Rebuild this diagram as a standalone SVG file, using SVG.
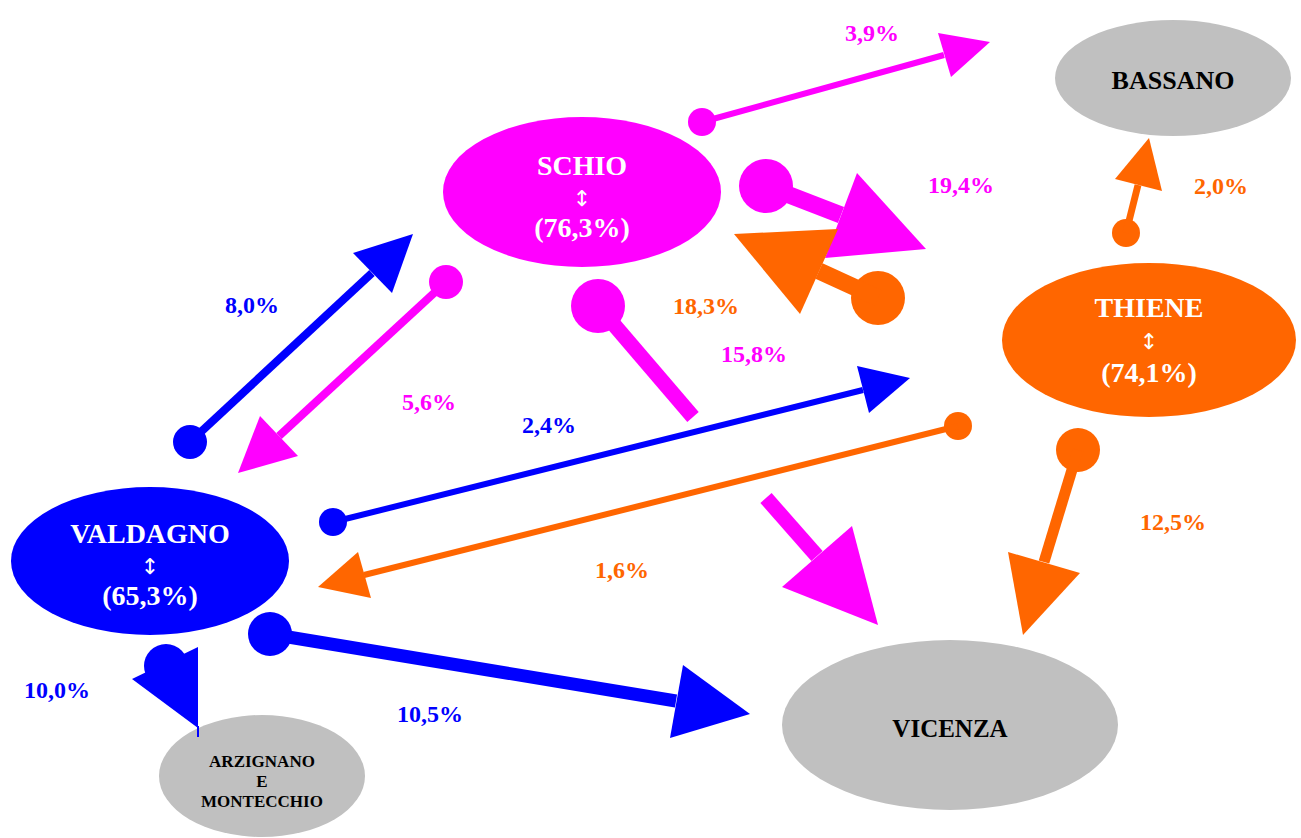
<svg xmlns="http://www.w3.org/2000/svg" width="1301" height="838" viewBox="0 0 1301 838">
<style>
.m{fill:#FF00FF}
.b{fill:#0000FF}
.o{fill:#FF6600}
.g{fill:#C0C0C0}
.ms{stroke:#FF00FF;fill:none}
.bs{stroke:#0000FF;fill:none}
.os{stroke:#FF6600;fill:none}
text{font-family:"Liberation Serif","Times New Roman",serif;font-weight:bold}
.nl{fill:#FFFFFF;font-size:28px;text-anchor:middle}
.ar{fill:#FFFFFF;font-family:"DejaVu Sans","DejaVu Serif",sans-serif;font-weight:normal;font-size:22px;text-anchor:middle}
.gl{fill:#000000;font-size:25px;text-anchor:middle}
.sl{fill:#000000;font-size:17px;text-anchor:middle}
.lb{font-size:24px}
</style>
<rect width="1301" height="838" fill="#FFFFFF"/>
<g id="nodes">
<g id="schio">
<ellipse class="m" cx="582" cy="192" rx="139" ry="75"/>
<text class="nl" x="582" y="175">SCHIO</text>
<text class="ar" x="582" y="206">↕</text>
<text class="nl" x="582" y="237">(76,3%)</text>
</g>
<g id="valdagno">
<ellipse class="b" cx="150" cy="561" rx="139" ry="74"/>
<text class="nl" x="150" y="543">VALDAGNO</text>
<text class="ar" x="150" y="574">↕</text>
<text class="nl" x="150" y="605">(65,3%)</text>
</g>
<g id="thiene">
<ellipse class="o" cx="1149" cy="340" rx="147" ry="77"/>
<text class="nl" x="1149" y="317">THIENE</text>
<text class="ar" x="1149" y="349">↕</text>
<text class="nl" x="1149" y="382">(74,1%)</text>
</g>
<g id="bassano">
<ellipse class="g" cx="1173" cy="78" rx="118" ry="58"/>
<text class="gl" x="1173" y="89" style="font-size:26px">BASSANO</text>
</g>
<g id="vicenza">
<ellipse class="g" cx="950" cy="725" rx="168" ry="85"/>
<text class="gl" x="950" y="737">VICENZA</text>
</g>
<g id="arzignano">
<ellipse class="g" cx="262" cy="776" rx="103" ry="61"/>
<text class="sl" x="262" y="767">ARZIGNANO</text>
<text class="sl" x="262" y="787">E</text>
<text class="sl" x="262" y="807">MONTECCHIO</text>
</g>
</g>
<g id="connectors">
<g id="c-schio-bassano">
<circle class="m" cx="702" cy="122" r="14"/>
<line class="ms" x1="702" y1="122" x2="944" y2="55" stroke-width="6"/>
<polygon class="m" points="938,33 990,42 951,77"/>
</g>
<g id="c-schio-thiene">
<circle class="m" cx="766" cy="186" r="27"/>
<line class="ms" x1="766" y1="186" x2="841" y2="215" stroke-width="17"/>
<polygon class="m" points="857,173 926,249 825,258"/>
</g>
<g id="c-thiene-schio">
<circle class="o" cx="878" cy="298" r="27"/>
<line class="os" x1="878" y1="298" x2="819" y2="271" stroke-width="17"/>
<polygon class="o" points="734,234 838,229 800,314"/>
</g>
<g id="c-schio-vicenza">
<circle class="m" cx="598" cy="306" r="27"/>
<line class="ms" x1="598" y1="306" x2="693" y2="417" stroke-width="15"/>
<line class="ms" x1="766" y1="498" x2="817" y2="556" stroke-width="15"/>
<polygon class="m" points="852,526 878,625 782,587"/>
</g>
<g id="c-schio-valdagno">
<circle class="m" cx="446" cy="282" r="17"/>
<line class="ms" x1="446" y1="282" x2="279" y2="436" stroke-width="8"/>
<polygon class="m" points="260,416 238,473 298,456"/>
</g>
<g id="c-valdagno-schio">
<circle class="b" cx="190" cy="442" r="17"/>
<line class="bs" x1="190" y1="442" x2="372" y2="273" stroke-width="8"/>
<polygon class="b" points="353,253 413,234 392,293"/>
</g>
<g id="c-valdagno-thiene">
<circle class="b" cx="333" cy="522" r="14"/>
<line class="bs" x1="333" y1="522" x2="863" y2="390" stroke-width="6"/>
<polygon class="b" points="857,366 910,378 869,413"/>
</g>
<g id="c-thiene-valdagno">
<circle class="o" cx="958" cy="426" r="14"/>
<line class="os" x1="958" y1="426" x2="364" y2="575" stroke-width="6"/>
<polygon class="o" points="358,552 318,587 371,598"/>
</g>
<g id="c-thiene-vicenza">
<circle class="o" cx="1078" cy="450" r="22"/>
<line class="os" x1="1078" y1="450" x2="1044" y2="562" stroke-width="11"/>
<polygon class="o" points="1008,552 1080,573 1023,635"/>
</g>
<g id="c-thiene-bassano">
<circle class="o" cx="1126" cy="233" r="14"/>
<line class="os" x1="1126" y1="233" x2="1138" y2="185" stroke-width="7"/>
<polygon class="o" points="1115,179 1149,138 1162,191"/>
</g>
<g id="c-valdagno-vicenza">
<circle class="b" cx="270" cy="634" r="22"/>
<line class="bs" x1="270" y1="634" x2="676" y2="701" stroke-width="13"/>
<polygon class="b" points="683,665 750,714 670,738"/>
</g>
<g id="c-valdagno-arzignano">
<circle class="b" cx="166" cy="666" r="22"/>
<polygon class="b" points="132,679 198,647 198,728"/>
<line class="bs" x1="198" y1="726" x2="198" y2="737" stroke-width="2"/>
</g>
</g>
<g id="labels">
<text class="lb m" x="845" y="41">3,9%</text>
<text class="lb m" x="928" y="193">19,4%</text>
<text class="lb o" x="1194" y="194">2,0%</text>
<text class="lb b" x="225" y="313">8,0%</text>
<text class="lb o" x="673" y="314">18,3%</text>
<text class="lb m" x="721" y="362">15,8%</text>
<text class="lb m" x="402" y="410">5,6%</text>
<text class="lb b" x="522" y="433">2,4%</text>
<text class="lb o" x="1140" y="530">12,5%</text>
<text class="lb o" x="595" y="578">1,6%</text>
<text class="lb b" x="24" y="698">10,0%</text>
<text class="lb b" x="397" y="722">10,5%</text>
</g>
</svg>
